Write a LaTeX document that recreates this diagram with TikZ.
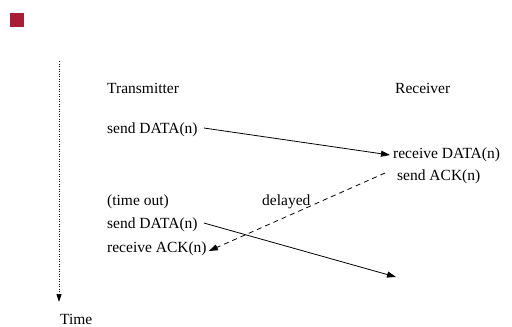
\documentclass[tikz,border=0pt]{standalone}
\usepackage{fontspec}
\setmainfont{Liberation Serif}
\usetikzlibrary{arrows.meta}
\definecolor{logored}{RGB}{168,30,52}
\begin{document}
\begin{tikzpicture}[x=1pt,y=-1pt,
  lbl/.style={anchor=west,inner sep=0pt,font=\fontsize{15.5}{18}\selectfont},
  msg/.style={line width=0.8pt,-{Triangle[length=9pt,width=6pt]}},
  ackmsg/.style={msg,dash pattern=on 5pt off 4pt}]
\useasboundingbox (0,0) rectangle (512,327);
\fill[logored] (10,13) rectangle (24,27);
\coordinate (t0) at (59,61);
\coordinate (t1) at (59,302);
\draw[line width=0.9pt,dash pattern=on 0.9pt off 1.6pt,-{Triangle[length=8pt,width=5pt]}] (t0) -- (t1);
\node[lbl] (time) at (60,319.5) {Time};
\node[lbl] (tx) at (107,88) {Transmitter};
\node[lbl] (rx) at (395,88) {Receiver};
\node[lbl] (s1) at (107,130) {send DATA(n)};
\node[lbl] (r1) at (393,155) {receive DATA(n)};
\node[lbl] (a1) at (397,177) {send ACK(n)};
\node[lbl] (to) at (107,202) {(time out)};
\node[lbl] (dl) at (262,202) {delayed};
\node[lbl] (s2) at (107,225) {send DATA(n)};
\node[lbl] (ra) at (107,249) {receive ACK(n)};
\coordinate (e3) at (396,277);
\draw[msg] (s1.east) ++(6,-2) -- ([xshift=-3pt]r1.west);
\draw[ackmsg] (a1.west) ++(-12,-4) -- ([xshift=2pt,yshift=-2pt]ra.east);
\draw[msg] (s2.east) ++(6,-2) -- (e3);
\end{tikzpicture}
\end{document}
